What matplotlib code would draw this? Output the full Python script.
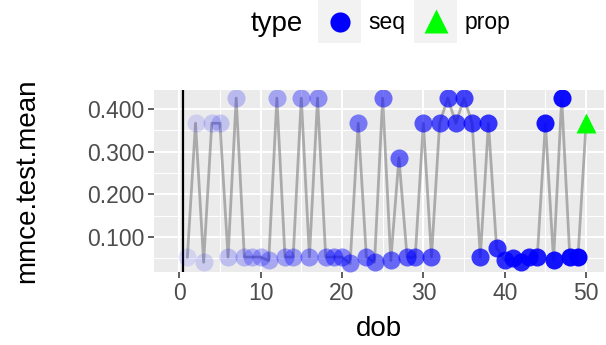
import numpy as np
import matplotlib
matplotlib.use("Agg")
import matplotlib.pyplot as plt
from matplotlib.patches import Rectangle
from matplotlib.lines import Line2D

plt.rcParams['font.family'] = ['Liberation Sans', 'DejaVu Sans']

# seq runs, dob 1..49
seq_dob = [1, 2, 3, 4, 5, 6, 7, 8, 9, 10, 11, 12, 13, 14, 15, 16, 17, 18, 19, 20,
           21, 22, 23, 24, 25, 26, 27, 28, 29, 30, 31, 32, 33, 34, 35, 36, 37, 38, 39, 40,
           41, 42, 43, 44, 45, 46, 47, 48, 49]
seq_mmce = [0.053, 0.367, 0.041, 0.367, 0.367, 0.053, 0.426, 0.053, 0.053, 0.053,
            0.045, 0.426, 0.053, 0.053, 0.426, 0.053, 0.426, 0.053, 0.053, 0.053,
            0.038, 0.367, 0.053, 0.041, 0.426, 0.045, 0.286, 0.053, 0.053, 0.367,
            0.053, 0.367, 0.426, 0.367, 0.426, 0.367, 0.053, 0.367, 0.074, 0.045,
            0.050, 0.041, 0.053, 0.053, 0.367, 0.045, 0.426, 0.053, 0.053]
# proposal
prop_dob = [50]
prop_mmce = [0.367]
init_line = 0.5

yticks = [0.1, 0.2, 0.3, 0.4]
xticks = [0, 10, 20, 30, 40, 50]

fig = plt.figure(figsize=(6.06, 3.45), dpi=100)
ax = fig.add_axes([154/606, 1 - 272/345, (604 - 154)/606, (272 - 90)/345])
ax.set_facecolor('#EBEBEB')
for s in ax.spines.values():
    s.set_visible(False)

# grid
for v in xticks:
    ax.axvline(v, color='white', lw=1.4, zorder=0)
for v in [5, 15, 25, 35, 45]:
    ax.axvline(v, color='white', lw=0.7, zorder=0)
for v in yticks:
    ax.axhline(v, color='white', lw=1.4, zorder=0)
for v in [0.05, 0.15, 0.25, 0.35]:
    ax.axhline(v, color='white', lw=0.7, zorder=0)

all_dob = seq_dob + prop_dob
all_mmce = seq_mmce + prop_mmce
ax.plot(all_dob, all_mmce, color='grey', alpha=0.6, lw=2, zorder=2)
ax.axvline(init_line, color='black', lw=1.6, zorder=3)

alphas = 0.1 + 0.9 * (np.array(all_dob) - 1) / 49
for d, m, a in zip(seq_dob, seq_mmce, alphas):
    ax.plot(d, m, 'o', color='#0000FF', alpha=a, ms=13, mec='none', zorder=4)
ax.plot(prop_dob, prop_mmce, '^', color='#00FF00', ms=15, mec='none', zorder=4)

ax.set_xlim(-3.1, 52.2)
ax.set_ylim(0.018, 0.445)
ax.set_xticks(xticks)
ax.set_yticks(yticks)
ax.set_yticklabels(['%.3f' % v for v in yticks])
ax.tick_params(colors='#333333', labelcolor='#4D4D4D', labelsize=16.5, length=4, width=1.1, pad=3)
ax.set_xlabel('dob', fontsize=20)
ax.set_ylabel('mmce.test.mean', fontsize=20)
ax.xaxis.set_label_coords(0.5, (272 - 329) / (272 - 90))
ax.yaxis.set_label_coords((27 - 154) / (604 - 154), 0.5)
ax.xaxis.label.set_va('center')
ax.yaxis.label.set_va('center')

# legend on top
fig.text(277/606, 1 - 24/345, 'type', fontsize=20, ha='center', va='center')
fig.add_artist(Rectangle((318/606, 1 - 43/345), 43/606, 43/345,
                         transform=fig.transFigure, color='#F2F2F2', lw=0))
fig.add_artist(Line2D([339.5/606], [1 - 22/345], marker='o', color='#0000FF', ms=14.5,
                      mec='none', transform=fig.transFigure))
fig.text(368/606, 1 - 23/345, 'seq', fontsize=16.5, ha='left', va='center')
fig.add_artist(Rectangle((414/606, 1 - 43/345), 43/606, 43/345,
                         transform=fig.transFigure, color='#F2F2F2', lw=0))
fig.add_artist(Line2D([435.5/606], [1 - 21/345], marker='^', color='#00FF00', ms=17,
                      mec='none', transform=fig.transFigure))
fig.text(465/606, 1 - 23/345, 'prop', fontsize=16.5, ha='left', va='center')

fig.savefig('out.png', dpi=100)
